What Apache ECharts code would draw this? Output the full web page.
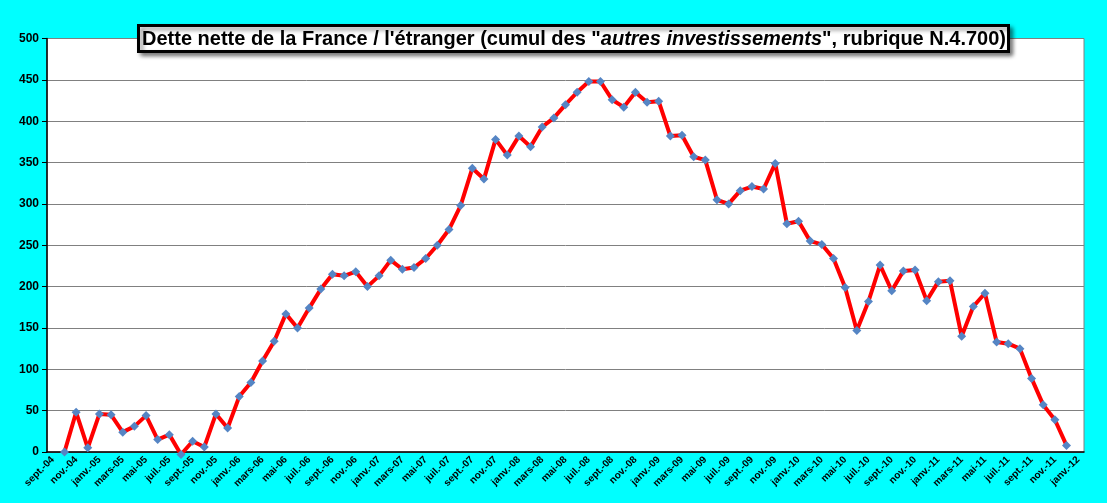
<!DOCTYPE html>
<html>
<head>
<meta charset="utf-8">
<script src="https://cdn.jsdelivr.net/npm/echarts@6/dist/echarts.min.js"></script>
<style>
html, body { margin: 0; padding: 0; background: #00ffff; }
#chart { width: 1107px; height: 503px; }
</style>
</head>
<body>
<div id="chart"></div>
<script>
// mois (sept.-04 -> janv.-12)
var mois = [
    'sept.-04', 'oct.-04', 'nov.-04', 'déc.-04',
    'janv.-05', 'févr.-05', 'mars-05', 'avr.-05', 'mai-05', 'juin-05', 'juil.-05', 'août-05', 'sept.-05', 'oct.-05', 'nov.-05', 'déc.-05',
    'janv.-06', 'févr.-06', 'mars-06', 'avr.-06', 'mai-06', 'juin-06', 'juil.-06', 'août-06', 'sept.-06', 'oct.-06', 'nov.-06', 'déc.-06',
    'janv.-07', 'févr.-07', 'mars-07', 'avr.-07', 'mai-07', 'juin-07', 'juil.-07', 'août-07', 'sept.-07', 'oct.-07', 'nov.-07', 'déc.-07',
    'janv.-08', 'févr.-08', 'mars-08', 'avr.-08', 'mai-08', 'juin-08', 'juil.-08', 'août-08', 'sept.-08', 'oct.-08', 'nov.-08', 'déc.-08',
    'janv.-09', 'févr.-09', 'mars-09', 'avr.-09', 'mai-09', 'juin-09', 'juil.-09', 'août-09', 'sept.-09', 'oct.-09', 'nov.-09', 'déc.-09',
    'janv.-10', 'févr.-10', 'mars-10', 'avr.-10', 'mai-10', 'juin-10', 'juil.-10', 'août-10', 'sept.-10', 'oct.-10', 'nov.-10', 'déc.-10',
    'janv.-11', 'févr.-11', 'mars-11', 'avr.-11', 'mai-11', 'juin-11', 'juil.-11', 'août-11', 'sept.-11', 'oct.-11', 'nov.-11', 'déc.-11',
    'janv.-12'
];

// dette nette (Md€), null = pas de valeur
var dette = [
    null, 0, 48, 5,
    46, 45, 24, 31, 44, 15, 21, -3, 13, 6, 46, 29,
    67, 84, 110, 134, 167, 150, 174, 197, 215, 213, 218, 200,
    213, 232, 221, 223, 234, 250, 269, 298, 343, 330, 378, 359,
    382, 369, 393, 404, 420, 435, 448, 448, 426, 417, 435, 423,
    424, 382, 383, 357, 353, 305, 300, 316, 321, 318, 349, 276,
    279, 255, 251, 234, 199, 147, 182, 226, 195, 219, 220, 183,
    206, 207, 140, 176, 192, 133, 131, 125, 89, 57, 39, 8,
    null
];

var myChart = echarts.init(document.getElementById('chart'));

myChart.setOption({
    backgroundColor: '#00ffff',
    animation: false,
    title: {
        text: '{n|Dette nette de la France / l\'étranger (cumul des "}{i|autres investissements}{n|", rubrique N.4.700)}',
        left: 138,
        top: 25,
        backgroundColor: '#fff',
        borderColor: '#000',
        borderWidth: 3,
        padding: [4, 3, 3, 4],
        shadowColor: 'rgba(0,0,0,0.45)',
        shadowBlur: 4,
        shadowOffsetX: 3,
        shadowOffsetY: 3,
        textStyle: {
            rich: {
                n: { fontFamily: 'Liberation Sans, Arial', fontWeight: 'bold', fontSize: 20, color: '#000' },
                i: { fontFamily: 'Liberation Sans, Arial', fontWeight: 'bold', fontStyle: 'italic', fontSize: 20, color: '#000' }
            }
        },
        z: 10
    },
    grid: {
        left: 47,
        top: 38.5,
        right: 23,
        bottom: 51,
        show: true,
        backgroundColor: '#fff',
        borderColor: '#808080',
        borderWidth: 1
    },
    xAxis: {
        type: 'category',
        data: mois,
        boundaryGap: true,
        axisLine: { lineStyle: { color: '#000', width: 1.5 } },
        axisTick: { interval: 1, length: 5, lineStyle: { color: '#000' } },
        axisLabel: {
            interval: 1,
            rotate: 45,
            margin: 6,
            color: '#000',
            fontFamily: 'Liberation Sans, Arial',
            fontWeight: 'bold',
            fontSize: 10
        },
        splitLine: { show: false }
    },
    yAxis: {
        type: 'value',
        min: 0,
        max: 500,
        interval: 50,
        axisLine: { show: true, lineStyle: { color: '#000', width: 1.5 } },
        axisTick: { show: true, length: 5, lineStyle: { color: '#000' } },
        axisLabel: {
            color: '#000',
            fontFamily: 'Liberation Sans, Arial',
            fontWeight: 'bold',
            fontSize: 12,
            margin: 8
        },
        splitLine: { lineStyle: { color: '#808080', width: 1 } }
    },
    series: [
        {
            type: 'line',
            data: dette,
            clip: false,
            connectNulls: false,
            showAllSymbol: true,
            symbol: 'diamond',
            symbolSize: 9,
            lineStyle: { color: '#ff0000', width: 4 },
            itemStyle: { color: '#5585c4' },
            z: 3
        }
    ]
});
</script>
</body>
</html>
